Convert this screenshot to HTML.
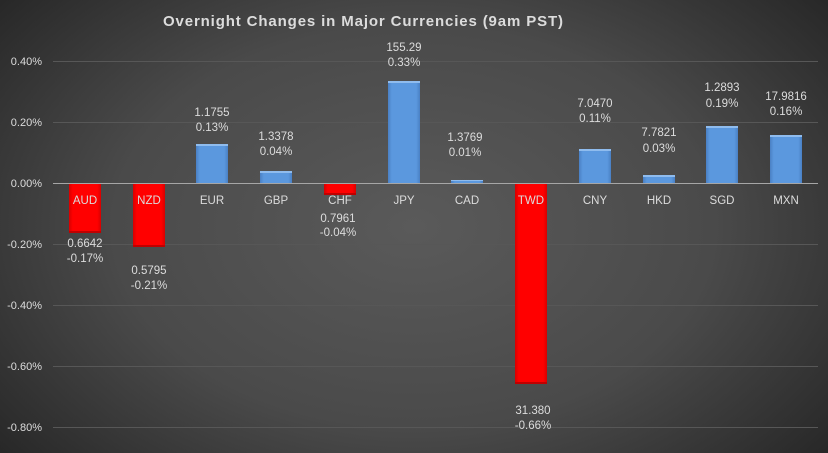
<!DOCTYPE html>
<html>
<head>
<meta charset="utf-8">
<style>
html,body{margin:0;padding:0;}
body{width:828px;height:453px;overflow:hidden;
background:radial-gradient(ellipse 600px 400px at 50% 50%, #5a5a5a 0%, #4a4a4a 50%, #272727 90%, #232323 100%);}
svg{display:block;}
text{font-family:"Liberation Sans",sans-serif;fill:#dcdcdc;}
</style>
</head>
<body>
<svg width="828" height="453" viewBox="0 0 828 453" xmlns="http://www.w3.org/2000/svg">
<defs>
<linearGradient id="bl" x1="0" y1="0" x2="1" y2="0">
<stop offset="0" stop-color="#4a80c4"/>
<stop offset="0.12" stop-color="#5b98de"/>
<stop offset="0.88" stop-color="#5b98de"/>
<stop offset="1" stop-color="#4a80c4"/>
</linearGradient>
<linearGradient id="rd" x1="0" y1="0" x2="1" y2="0">
<stop offset="0" stop-color="#d80000"/>
<stop offset="0.12" stop-color="#ff0000"/>
<stop offset="0.88" stop-color="#ff0000"/>
<stop offset="1" stop-color="#d80000"/>
</linearGradient>
</defs>

<!-- title -->
<text x="163" y="26" font-size="15" font-weight="bold" textLength="400" lengthAdjust="spacing" fill="#e6e6e0">Overnight Changes in Major Currencies (9am PST)</text>

<!-- gridlines -->
<g stroke="#575757" stroke-width="1">
<line x1="53" y1="61.5" x2="818" y2="61.5"/>
<line x1="53" y1="122.5" x2="818" y2="122.5"/>
<line x1="53" y1="244.5" x2="818" y2="244.5"/>
<line x1="53" y1="305.5" x2="818" y2="305.5"/>
<line x1="53" y1="366.5" x2="818" y2="366.5"/>
<line x1="53" y1="427.5" x2="818" y2="427.5"/>
</g>

<!-- y labels -->
<g font-size="11" text-anchor="end">
<text x="42" y="65">0.40%</text>
<text x="42" y="126">0.20%</text>
<text x="42" y="187">0.00%</text>
<text x="42" y="248">-0.20%</text>
<text x="42" y="309">-0.40%</text>
<text x="42" y="370">-0.60%</text>
<text x="42" y="431">-0.80%</text>
</g>

<!-- bars -->
<g>
<!-- AUD -->
<rect x="69" y="183" width="32" height="50" fill="url(#rd)"/>
<rect x="69" y="231" width="32" height="2" fill="#c00000"/>
<!-- NZD -->
<rect x="133" y="183" width="32" height="64" fill="url(#rd)"/>
<rect x="133" y="245" width="32" height="2" fill="#c00000"/>
<!-- EUR -->
<rect x="196" y="144" width="32" height="39" fill="url(#bl)"/>
<rect x="196" y="144" width="32" height="2" fill="#8fbcee"/>
<!-- GBP -->
<rect x="260" y="171" width="32" height="12" fill="url(#bl)"/>
<rect x="260" y="171" width="32" height="2" fill="#8fbcee"/>
<!-- CHF -->
<rect x="324" y="183" width="32" height="12" fill="url(#rd)"/>
<rect x="324" y="193" width="32" height="2" fill="#c00000"/>
<!-- JPY -->
<rect x="388" y="81" width="32" height="102" fill="url(#bl)"/>
<rect x="388" y="81" width="32" height="2" fill="#8fbcee"/>
<!-- CAD -->
<rect x="451" y="180" width="32" height="3" fill="url(#bl)"/>
<rect x="451" y="180" width="32" height="1" fill="#8fbcee"/>
<!-- TWD -->
<rect x="515" y="183" width="32" height="201" fill="url(#rd)"/>
<rect x="515" y="382" width="32" height="2" fill="#c00000"/>
<!-- CNY -->
<rect x="579" y="149" width="32" height="34" fill="url(#bl)"/>
<rect x="579" y="149" width="32" height="2" fill="#8fbcee"/>
<!-- HKD -->
<rect x="643" y="175" width="32" height="8" fill="url(#bl)"/>
<rect x="643" y="175" width="32" height="2" fill="#8fbcee"/>
<!-- SGD -->
<rect x="706" y="126" width="32" height="57" fill="url(#bl)"/>
<rect x="706" y="126" width="32" height="2" fill="#8fbcee"/>
<!-- MXN -->
<rect x="770" y="135" width="32" height="48" fill="url(#bl)"/>
<rect x="770" y="135" width="32" height="2" fill="#8fbcee"/>
</g>

<!-- zero axis -->
<line x1="53" y1="183.5" x2="818" y2="183.5" stroke="#a6a6a6" stroke-width="1"/>

<!-- category labels -->
<g font-size="11.5" text-anchor="middle">
<text x="85" y="204" fill="#f2f2f2">AUD</text>
<text x="149" y="204" fill="#f2f2f2">NZD</text>
<text x="212" y="204">EUR</text>
<text x="276" y="204">GBP</text>
<text x="340" y="204">CHF</text>
<text x="404" y="204">JPY</text>
<text x="467" y="204">CAD</text>
<text x="531" y="204" fill="#f2f2f2">TWD</text>
<text x="595" y="204">CNY</text>
<text x="659" y="204">HKD</text>
<text x="722" y="204">SGD</text>
<text x="786" y="204">MXN</text>
</g>

<!-- data labels -->
<g font-size="11.5" text-anchor="middle">
<text x="85" y="247">0.6642</text><text x="85" y="262">-0.17%</text>
<text x="149" y="274">0.5795</text><text x="149" y="289">-0.21%</text>
<text x="212" y="116">1.1755</text><text x="212" y="131">0.13%</text>
<text x="276" y="140">1.3378</text><text x="276" y="155">0.04%</text>
<text x="338" y="222">0.7961</text><text x="338" y="236">-0.04%</text>
<text x="404" y="51">155.29</text><text x="404" y="66">0.33%</text>
<text x="465" y="141">1.3769</text><text x="465" y="156">0.01%</text>
<text x="533" y="414">31.380</text><text x="533" y="429">-0.66%</text>
<text x="595" y="107">7.0470</text><text x="595" y="122">0.11%</text>
<text x="659" y="136">7.7821</text><text x="659" y="152">0.03%</text>
<text x="722" y="91">1.2893</text><text x="722" y="107">0.19%</text>
<text x="786" y="100">17.9816</text><text x="786" y="115">0.16%</text>
</g>
</svg>
</body>
</html>
